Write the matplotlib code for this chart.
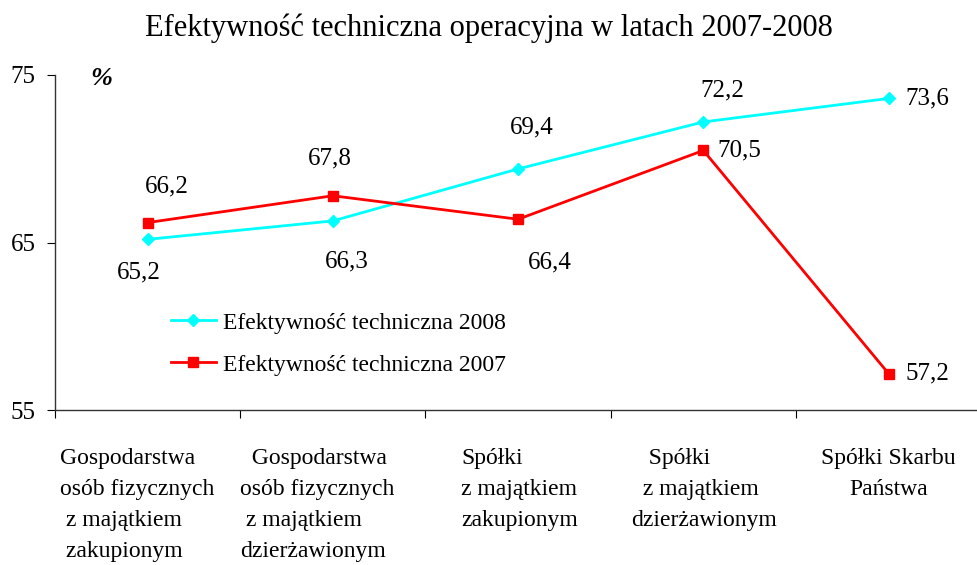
import matplotlib
matplotlib.use("Agg")
import matplotlib.pyplot as plt

plt.rcParams['font.family'] = ['Liberation Serif', 'DejaVu Serif']

categories = [
    "Gospodarstwa\nosób fizycznych\n z majątkiem\n zakupionym",
    "  Gospodarstwa\nosób fizycznych\n z majątkiem\ndzierżawionym",
    "Spółki\nz majątkiem\nzakupionym",
    "   Spółki\n  z majątkiem\ndzierżawionym",
    "Spółki Skarbu\nPaństwa",
]
eff_2008 = [65.2, 66.3, 69.4, 72.2, 73.6]
eff_2007 = [66.2, 67.8, 66.4, 70.5, 57.2]
yticks = [55, 65, 75]

# label offsets (points) relative to each marker
off_2008 = [(-6, -24), (10, -29), (10, 30), (14, 23), (12, 0)]
off_2007 = [(14, 26), (-2, 27), (23, -31), (10, 0), (12, 0)]
ha_2008 = ['center', 'center', 'center', 'center', 'left']
ha_2007 = ['center', 'center', 'center', 'left', 'left']
# category label placement (points from category centre)
cat_dx = [-63, -67, -41, -52, 0]
cat_ha = ['left', 'left', 'left', 'left', 'center']

fig = plt.figure(figsize=(9.77, 5.65), dpi=100)
ax = fig.add_axes([0.0563, 0.2735, 0.948, 0.5938])

x = list(range(len(categories)))
ax.plot(x, eff_2008, color='#00FFFF', lw=2.0, marker='D', ms=6.5,
        label='Efektywność techniczna 2008')
ax.plot(x, eff_2007, color='#FF0000', lw=2.0, marker='s', ms=7,
        label='Efektywność techniczna 2007')

for i, v in enumerate(eff_2008):
    ax.annotate(f"{v:.1f}".replace('.', ','), (i, v), xytext=off_2008[i],
                textcoords='offset points', ha=ha_2008[i], va='center', fontsize=18)
for i, v in enumerate(eff_2007):
    ax.annotate(f"{v:.1f}".replace('.', ','), (i, v), xytext=off_2007[i],
                textcoords='offset points', ha=ha_2007[i], va='center', fontsize=18)

ax.set_xlim(-0.5, len(categories) - 0.5)
ax.set_ylim(55, 75)
ax.set_yticks(yticks)
ax.tick_params(axis='y', labelsize=18, length=6, direction='out', pad=8)

# category boundaries as ticks, labels in the middle
ax.set_xticks([i - 0.5 for i in range(len(categories) + 1)])
ax.set_xticklabels([])
ax.tick_params(axis='x', length=6, direction='out')
for i, lab in enumerate(categories):
    ax.annotate(lab, (i, 55), xytext=(cat_dx[i], -27),
                textcoords='offset points', ha=cat_ha[i], va='top', fontsize=17,
                multialignment=cat_ha[i], linespacing=1.62)

for s in ['top', 'right']:
    ax.spines[s].set_visible(False)
for s in ['left', 'bottom']:
    ax.spines[s].set_color('#333333')
    ax.spines[s].set_linewidth(1.0)

ax.text(0.05, 0.99, "%", transform=ax.transAxes, fontsize=19,
        fontweight='bold', fontstyle='italic', ha='center', va='center')

ax.legend(loc='upper left', bbox_to_anchor=(0.125, 0.293), frameon=False,
          fontsize=17, handlelength=1.9, handletextpad=0.3, labelspacing=0.86,
          borderpad=0, borderaxespad=0)

fig.suptitle("Efektywność techniczna operacyjna w latach 2007-2008",
             fontsize=22, x=0.5, y=0.95, va='center')

fig.savefig("out.png", dpi=100)
